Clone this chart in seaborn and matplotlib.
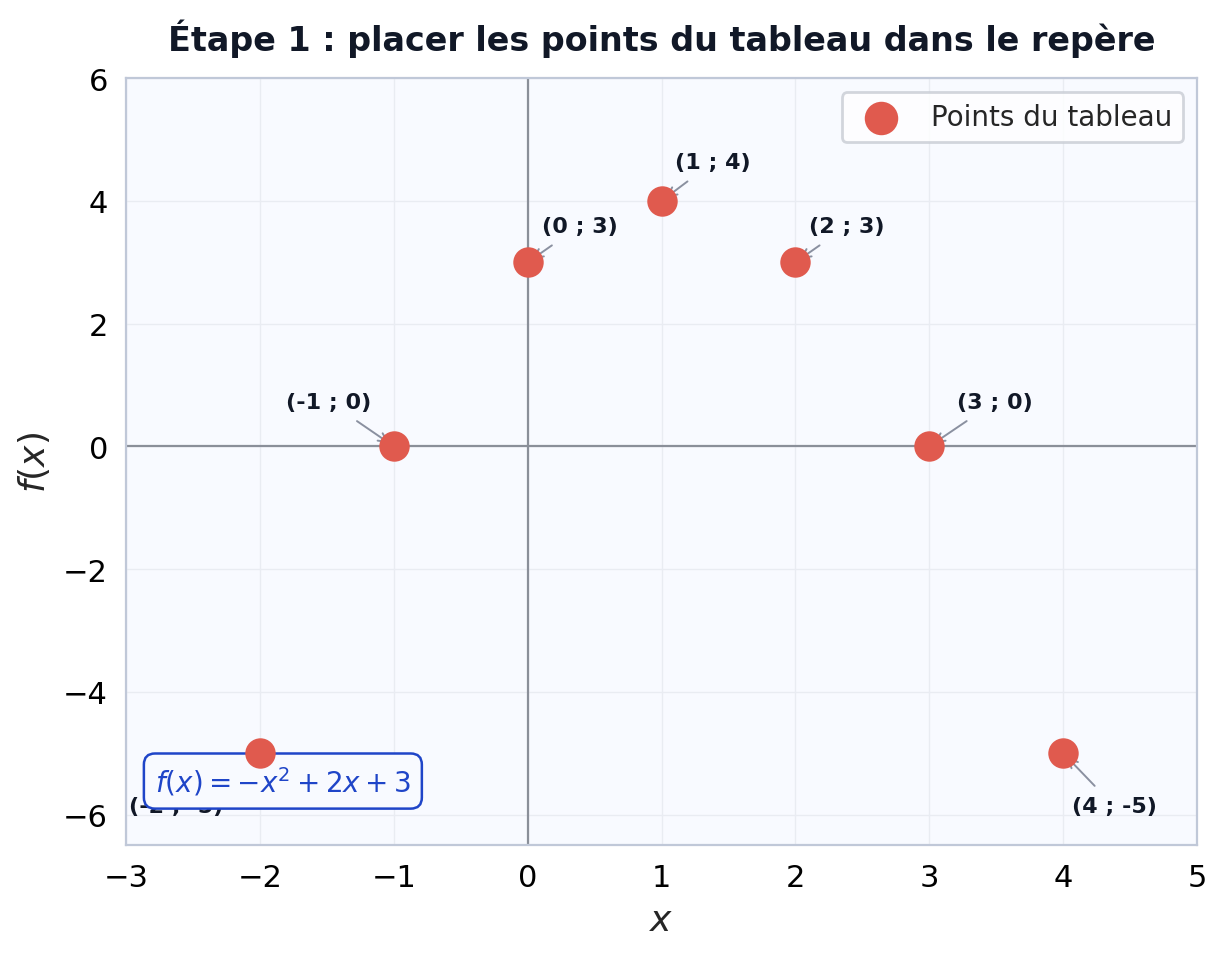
import numpy as np
import pandas as pd
import seaborn as sns
import matplotlib.pyplot as plt

xs = [-2, -1, 0, 1, 2, 3, 4]
ys = [-5, 0, 3, 4, 3, 0, -5]
labels = ["(-2 ; -5)", "(-1 ; 0)", "(0 ; 3)", "(1 ; 4)", "(2 ; 3)", "(3 ; 0)", "(4 ; -5)"]
offsets = [(-47, -19, "left"), (-8, 16, "right"), (5, 13, "left"), (5, 14, "left"),
           (5, 13, "left"), (10, 16, "left"), (3, -19, "left")]

sns.set_style("white")
plt.rcParams['font.family'] = ['DejaVu Sans']

fig = plt.figure(figsize=(6.12, 4.77), dpi=200)
ax = fig.add_axes([0.103, 0.113, 0.875, 0.804])
ax.set_facecolor("#f8faff")

df = pd.DataFrame({"x": xs, "y": ys})
sns.scatterplot(data=df, x="x", y="y", ax=ax, s=120, color="#e05a4e",
                linewidth=0, zorder=5, label="Points du tableau")

ax.axhline(0, color="#8a8f99", lw=0.8, zorder=1)
ax.axvline(0, color="#8a8f99", lw=0.8, zorder=1)
ax.grid(True, color="#e9ecf2", lw=0.5)

for x, y, lab, (dx, dy, ha) in zip(xs, ys, labels, offsets):
    ax.annotate(lab, (x, y), xytext=(dx, dy), textcoords="offset points", ha=ha,
                va="center", fontsize=8, fontweight="bold", color="#111827", zorder=3,
                arrowprops=dict(arrowstyle="->", color="#8a90a0", lw=0.7))

ax.text(0.027, 0.07, r"$f(x) = -x^2 + 2x + 3$", transform=ax.transAxes, fontsize=10,
        color="#1f45c8", zorder=4.5,
        bbox=dict(boxstyle="round,pad=0.4", facecolor="#f8faff", edgecolor="#1f45c8", lw=0.9))

ax.set_xlim(-3, 5)
ax.set_ylim(-6.5, 6)
ax.set_xticks(range(-3, 6))
ax.set_yticks(range(-6, 7, 2))
ax.tick_params(labelsize=11, length=3, color="#333333", labelcolor="black")
ax.set_xlabel(r"$x$", fontsize=13)
ax.set_ylabel(r"$f(x)$", fontsize=13)
ax.set_title("Étape 1 : placer les points du tableau dans le repère",
             fontsize=12, fontweight="bold", color="#111827", pad=10)
for s in ax.spines.values():
    s.set_color("#c0c8d8")
ax.legend(loc="upper right", fontsize=10, frameon=True, edgecolor="#c8ccd4",
          markerscale=1.1)

fig.savefig("out.png", dpi=200)
